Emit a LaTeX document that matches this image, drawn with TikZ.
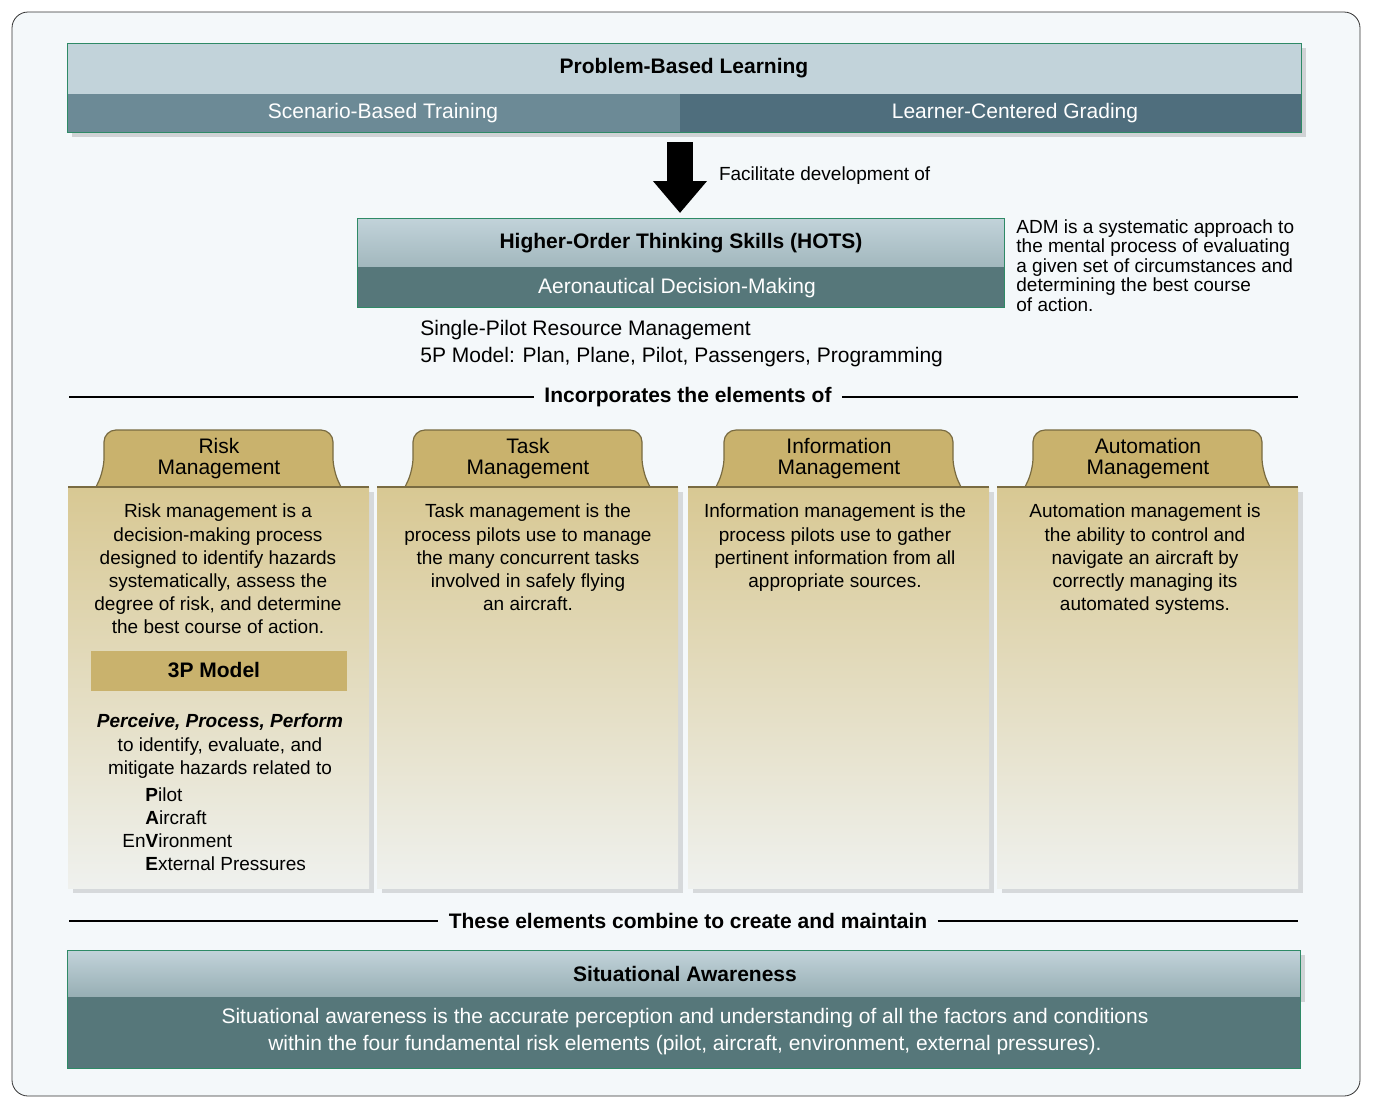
\documentclass[tikz,border=0pt]{standalone}
\usepackage{fontspec}
\setmainfont{Liberation Sans}
\usetikzlibrary{positioning,shadows,arrows.meta,calc}
\definecolor{pagebg}{HTML}{F4F8FA}
\definecolor{bandlight}{HTML}{C2D3DA}
\definecolor{bandmid}{HTML}{6C8A96}
\definecolor{banddark}{HTML}{4F6E7D}
\definecolor{teal}{HTML}{56777A}
\definecolor{gold}{HTML}{C9B26D}
\definecolor{goldtop}{HTML}{D8C893}
\definecolor{goldbot}{HTML}{EFF1EE}
\definecolor{edge}{HTML}{2E8A66}
\tikzset{
  body/.style={font=\fontsize{9.5}{11.6}\selectfont,align=center},
  head/.style={font=\fontsize{10.5}{11}\selectfont\bfseries,align=center},
  band/.style={draw=edge,line width=0.5pt},
  column/.style={top color=goldtop,bottom color=goldbot,drop shadow={opacity=0.25}},
  tab/.style={fill=gold,draw=gold!60!black,line width=0.6pt}
}
\begin{document}
\begin{tikzpicture}[x=0.5pt,y=-0.5pt,>=Stealth]
\useasboundingbox (0,0) rectangle (1373,1105);
\draw[rounded corners=8pt,fill=pagebg,draw=black!80] (12,12) rectangle (1360,1096);
% problem-based learning
\fill[bandlight,drop shadow={opacity=0.3}] (67,43) rectangle (1301,132);
\fill[bandmid] (67,94) rectangle (680,132);
\fill[banddark] (680,94) rectangle (1301,132);
\draw[band] (67,43) rectangle (1301,132);
\node[head] (pbl) at (684,68) {Problem-Based Learning};
\node[body,text=white,font=\fontsize{10.5}{12}\selectfont] (sbt) at (383,113) {Scenario-Based Training};
\node[body,text=white,font=\fontsize{10.5}{12}\selectfont] (lcg) at (1015,113) {Learner-Centered Grading};
\coordinate (arrtop) at (680,142);
\coordinate (arrbot) at (680,213);
\draw[line width=13pt,-{Triangle[width=26pt,length=16pt]}] (arrtop) -- (arrbot);
\node[body,anchor=west] (fac) at (712,176) {Facilitate development of};
% HOTS
\shade[top color=bandlight,bottom color=bandlight!70!teal] (357,218) rectangle (1004,267);
\fill[teal] (357,267) rectangle (1004,307);
\draw[band] (357,218) rectangle (1004,307);
\node[head] (hots) at (681,243) {Higher-Order Thinking Skills (HOTS)};
\node[body,text=white,font=\fontsize{10.5}{12}\selectfont] (adm) at (677,288) {Aeronautical Decision-Making};
\node[body,align=left,anchor=north west,font=\fontsize{9.5}{9.8}\selectfont,inner sep=0pt] (admtext) at (1016,219)
  {ADM is a systematic approach to\\the mental process of evaluating\\a given set of circumstances and\\determining the best course\\of action.};
\node[body,align=left,anchor=north west,font=\fontsize{10.5}{13.5}\selectfont,inner sep=0pt] (srm) at (420,320)
  {Single-Pilot Resource Management\\5P Model: Plan, Plane, Pilot, Passengers, Programming};
% divider 1
\node[head,fill=pagebg,inner xsep=5pt] (inc) at (688,397) {Incorporates the elements of};
\coordinate (l1a) at (69,397); \coordinate (l1b) at (1298,397);
\draw[line width=1.2pt] (l1a) -- (inc.west) (inc.east) -- (l1b);
% columns
\foreach \xa/\xb/\ttl/\nm in {68/369/Risk/risk,377/678/Task/task,688/989/Information/info,997/1298/Automation/auto}{
  \fill[column] (\xa,487) rectangle (\xb,888);
  \draw[tab,rounded corners=6pt] ($(\xa,487)+(28,0)$) -- ($(\xa,470)+(36,0)$) -- ($(\xa,430)+(36,0)$) -- ($(\xa,430)+(265,0)$) -- ($(\xa,470)+(265,0)$) -- ($(\xb,487)+(-28,0)$);
  \draw[gold!60!black,line width=1pt] (\xa,487) -- (\xb,487);
  \node[head,font=\fontsize{10.5}{10.5}\selectfont] (\nm) at ($(\xa,459)+(151,0)$) {\ttl\\Management};
}
\node[body,anchor=north] (risktext) at (218,497) {Risk management is a\\decision-making process\\designed to identify hazards\\systematically, assess the\\degree of risk, and determine\\the best course of action.};
\node[body,anchor=north] (tasktext) at (528,497) {Task management is the\\process pilots use to manage\\the many concurrent tasks\\involved in safely flying\\an aircraft.};
\node[body,anchor=north] (infotext) at (835,497) {Information management is the\\process pilots use to gather\\pertinent information from all\\appropriate sources.};
\node[body,anchor=north] (autotext) at (1145,497) {Automation management is\\the ability to control and\\navigate an aircraft by\\correctly managing its\\automated systems.};
\fill[gold] (91,651) rectangle (347,691);
\node[head] (threep) at (214,670) {3P Model};
\node[body,anchor=north] (ppp) at (220,707) {\textbf{\textit{Perceive, Process, Perform}}\\to identify, evaluate, and\\mitigate hazards related to};
\node[body,anchor=north west,align=left,inner sep=0pt] (pave) at (122,787)
  {\hspace*{11.5pt}\textbf{P}ilot\\\hspace*{11.5pt}\textbf{A}ircraft\\En\textbf{V}ironment\\\hspace*{11.5pt}\textbf{E}xternal Pressures};
% divider 2
\node[head,fill=pagebg,inner xsep=5pt] (comb) at (688,921) {These elements combine to create and maintain};
\coordinate (l2a) at (69,921); \coordinate (l2b) at (1298,921);
\draw[line width=1.2pt] (l2a) -- (comb.west) (comb.east) -- (l2b);
% situational awareness
\shade[top color=bandlight,bottom color=bandlight!60!teal,drop shadow={opacity=0.3}] (67,950) rectangle (1300,997);
\fill[teal] (67,997) rectangle (1300,1068);
\draw[band] (67,950) rectangle (1300,1068);
\node[head] (sa) at (685,974) {Situational Awareness};
\node[body,text=white,font=\fontsize{10.5}{13.5}\selectfont] (satext) at (685,1032) {Situational awareness is the accurate perception and understanding of all the factors and conditions\\within the four fundamental risk elements (pilot, aircraft, environment, external pressures).};
\end{tikzpicture}
\end{document}
